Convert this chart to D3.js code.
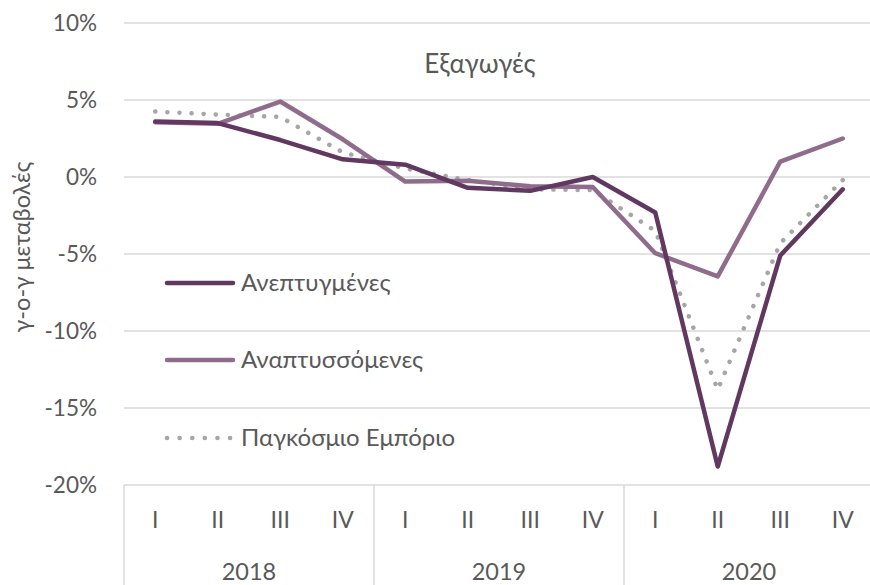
<!DOCTYPE html>
<html>
<head>
<meta charset="utf-8">
<script src="https://cdn.jsdelivr.net/npm/d3@7"></script>
<style>
  body { margin: 0; background: #fff; }
  text { font-family: Lato, "Open Sans", sans-serif; fill: #595959; }
</style>
</head>
<body>
<div id="chart"></div>
<script>
// Δεδομένα (τρίμηνα, % ετήσια μεταβολή)
const years = ['2018', '2019', '2020'];
const quarters = ['I', 'II', 'III', 'IV'];
const developed = [3.6, 3.5, 2.4, 1.15, 0.8, -0.7, -0.9, 0.0, -2.3, -18.8, -5.1, -0.8];
const developing = [3.55, 3.45, 4.9, 2.45, -0.3, -0.25, -0.6, -0.65, -4.95, -6.45, 1.0, 2.5];
const worldTrade = [4.25, 4.05, 3.9, 1.6, 0.55, -0.2, -0.8, -0.85, -3.5, -13.8, -4.3, -0.2];
const yTicks = [10, 5, 0, -5, -10, -15, -20];
const seriesNames = ['Ανεπτυγμένες', 'Αναπτυσσόμενες', 'Παγκόσμιο Εμπόριο'];

const width = 870, height = 585;
const margin = { left: 124, right: -4, top: 23, bottom: 100 };

const svg = d3.select('#chart')
  .append('svg')
  .attr('width', width)
  .attr('height', height);

// κατηγορίες: έτος-τρίμηνο
const cats = [];
years.forEach(y => quarters.forEach(q => cats.push(y + '-' + q)));

const x = d3.scaleBand()
  .domain(cats)
  .range([margin.left, width - margin.right]);

const y = d3.scaleLinear()
  .domain([-20, 10])
  .range([height - margin.bottom, margin.top]);

// γραμμές πλέγματος
svg.selectAll('line.grid')
  .data(yTicks.filter(d => d !== -20))
  .enter()
  .append('line')
  .attr('class', 'grid')
  .attr('x1', margin.left)
  .attr('x2', width)
  .attr('y1', d => y(d))
  .attr('y2', d => y(d))
  .attr('stroke', '#d9d9d9')
  .attr('stroke-width', 1.5);

// ετικέτες άξονα y
svg.selectAll('text.ytick')
  .data(yTicks)
  .enter()
  .append('text')
  .attr('class', 'ytick')
  .attr('x', 97)
  .attr('y', d => y(d))
  .attr('dy', '0.35em')
  .attr('text-anchor', 'end')
  .attr('font-size', '22.5px')
  .text(d => d + '%');

// τίτλος άξονα y
svg.append('text')
  .attr('transform', `translate(30, ${(y(10) + y(-20)) / 2 - 7}) rotate(-90)`)
  .attr('text-anchor', 'middle')
  .attr('font-size', '23.5px')
  .text('γ-ο-γ μεταβολές');

// άξονας x (γραμμή και διαχωριστικά ετών)
const axisY = y(-20);
svg.append('line')
  .attr('x1', margin.left)
  .attr('x2', width)
  .attr('y1', axisY)
  .attr('y2', axisY)
  .attr('stroke', '#d9d9d9')
  .attr('stroke-width', 1.5);

const yearEdges = years.map(yr => x(yr + '-I'));
svg.selectAll('line.sep')
  .data(yearEdges)
  .enter()
  .append('line')
  .attr('class', 'sep')
  .attr('x1', d => d)
  .attr('x2', d => d)
  .attr('y1', axisY)
  .attr('y2', height)
  .attr('stroke', '#d9d9d9')
  .attr('stroke-width', 1.5);

svg.selectAll('text.qtick')
  .data(cats)
  .enter()
  .append('text')
  .attr('class', 'qtick')
  .attr('x', d => x(d) + x.bandwidth() / 2)
  .attr('y', axisY + 35)
  .attr('dy', '0.35em')
  .attr('text-anchor', 'middle')
  .attr('font-size', '23px')
  .text(d => d.split('-')[1]);

svg.selectAll('text.year')
  .data(years)
  .enter()
  .append('text')
  .attr('class', 'year')
  .attr('x', d => x(d + '-I') + x.bandwidth() * 2)
  .attr('y', axisY + 87)
  .attr('dy', '0.35em')
  .attr('text-anchor', 'middle')
  .attr('font-size', '23.5px')
  .text(d => d);

// τίτλος γραφήματος
svg.append('text')
  .attr('x', 480)
  .attr('y', 64)
  .attr('dy', '0.35em')
  .attr('text-anchor', 'middle')
  .attr('font-size', '26px')
  .text('Εξαγωγές');

// σειρές
const series = [
  { name: seriesNames[0], values: developed, color: '#61385f', dash: null },
  { name: seriesNames[1], values: developing, color: '#8f6b8c', dash: null },
  { name: seriesNames[2], values: worldTrade, color: '#a6a6a6', dash: '0.1 12' }
];

const line = d3.line()
  .x((d, i) => x(cats[i]) + x.bandwidth() / 2)
  .y(d => y(d));

// σειρά σχεδίασης: παγκόσμιο πρώτα, μετά αναπτυσσόμενες, μετά ανεπτυγμένες
[series[2], series[1], series[0]].forEach(s => {
  svg.append('path')
    .datum(s.values)
    .attr('d', line)
    .attr('fill', 'none')
    .attr('stroke', s.color)
    .attr('stroke-width', 4.5)
    .attr('stroke-linecap', 'round')
    .attr('stroke-linejoin', 'round')
    .attr('stroke-dasharray', s.dash);
});

// υπόμνημα
const legendY = [283, 360, 438];
series.forEach((s, i) => {
  svg.append('line')
    .attr('x1', 167)
    .attr('x2', 233)
    .attr('y1', legendY[i])
    .attr('y2', legendY[i])
    .attr('stroke', s.color)
    .attr('stroke-width', 4.5)
    .attr('stroke-linecap', 'round')
    .attr('stroke-dasharray', s.dash ? '0.1 12.5' : null);
  svg.append('text')
    .attr('x', 241)
    .attr('y', legendY[i])
    .attr('dy', '0.35em')
    .attr('font-size', '24px')
    .text(s.name);
});
</script>
</body>
</html>
